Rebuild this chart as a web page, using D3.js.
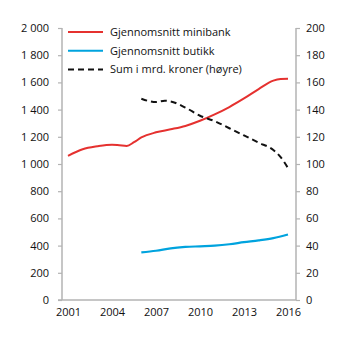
<!DOCTYPE html>
<html><head><meta charset="utf-8">
<script src="https://cdn.jsdelivr.net/npm/d3@7"></script>
<style>body{margin:0;background:#fff}svg{display:block;font-family:"Open Sans",sans-serif}</style>
</head><body><svg id="c" width="346" height="341"></svg>
<script>
const minibankYears = [2001,2002,2003,2004,2004.5,2005,2005.5,2006,2007,2008,2009,2010,2011,2012,2013,2014,2015,2015.5,2016];
const minibank = [1060,1108,1130,1142,1138,1133,1160,1195,1233,1255,1280,1318,1365,1419,1482,1551,1613,1625,1627];
const butikkYears = [2006,2007,2008,2009,2010,2011,2012,2013,2014,2015,2016];
const butikk = [350,362,380,390,395,400,410,425,438,455,482];
const sumYears = [2006,2007,2007.6,2008,2009,2010,2011,2012,2013,2014,2015,2015.5,2016];
const sum = [148,145.5,146.5,146,141.5,135.5,131.5,126.3,121,115.7,110.3,105,97];
const leftTicks = [0,200,400,600,800,1000,1200,1400,1600,1800,2000];
const rightTicks = [0,20,40,60,80,100,120,140,160,180,200];
const xTicks = [2001,2004,2007,2010,2013,2016];
const legendLabels = ["Gjennomsnitt minibank","Gjennomsnitt butikk","Sum i mrd. kroner (høyre)"];

const svg = d3.select("#c");
const L = 62, R = 296, T = 28, B = 300;
const x = d3.scaleLinear().domain([2001,2016]).range([68,288]);
const yL = d3.scaleLinear().domain([0,2000]).range([B,T]);
const yR = d3.scaleLinear().domain([0,200]).range([B,T]);
const axisColor = "#b3b3b3";

const la = svg.append("g").attr("transform",`translate(${L},0)`)
  .call(d3.axisLeft(yL).tickValues(leftTicks).tickSize(4).tickPadding(9).tickFormat(d=>d3.format(",")(d).replace(/,/g," ")));
const ra = svg.append("g").attr("transform",`translate(${R},0)`)
  .call(d3.axisRight(yR).tickValues(rightTicks).tickSize(4).tickPadding(6));
const ba = svg.append("g").attr("transform",`translate(0,${B})`)
  .call(d3.axisBottom(x).tickValues(xTicks).tickSize(0).tickPadding(8).tickFormat(d3.format("d")));
[la,ra,ba].forEach(g=>{
  g.select(".domain").attr("stroke",axisColor).attr("stroke-width",1.5);
  g.selectAll(".tick line").attr("stroke",axisColor).attr("stroke-width",1.2);
  g.selectAll("text").attr("fill","#111").attr("font-size","11px").attr("font-family","Open Sans, sans-serif");
});
la.select(".domain").attr("d",`M0,${B}V${T}`);
ra.select(".domain").attr("d",`M0,${B}V${T}`);
ba.select(".domain").attr("d",`M${L-4},0H${R}`);

const line = (xs,ys,sy)=>d3.line().x((d,i)=>x(xs[i])).y(d=>sy(d)).curve(d3.curveMonotoneX)(ys);
svg.append("path").attr("d",line(minibankYears,minibank,yL)).attr("fill","none").attr("stroke","#e5312f").attr("stroke-width",2);
svg.append("path").attr("d",line(butikkYears,butikk,yL)).attr("fill","none").attr("stroke","#00a3de").attr("stroke-width",2.2);
svg.append("path").attr("d",line(sumYears,sum,yR)).attr("fill","none").attr("stroke","#111").attr("stroke-width",2).attr("stroke-dasharray","6,4");

const colors = ["#e5312f","#00a3de","#111"];
const leg = svg.append("g");
legendLabels.forEach((t,i)=>{
  const yy = 32 + i*18.7;
  leg.append("line").attr("x1",68).attr("x2",103).attr("y1",yy).attr("y2",yy)
    .attr("stroke",colors[i]).attr("stroke-width",2).attr("stroke-dasharray",i===2?"6,4":null);
  leg.append("text").attr("x",110).attr("y",yy+4).attr("font-size","11px").attr("fill","#111").text(t);
});
</script></body></html>
